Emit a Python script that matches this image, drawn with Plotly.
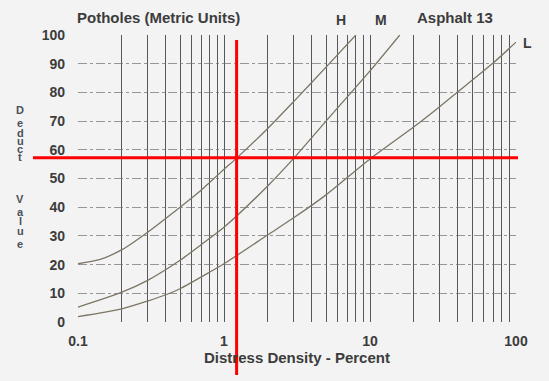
import plotly.graph_objects as go

# ---- data ----
h_x = [0.1, 0.14, 0.2, 0.3, 0.5, 0.7, 0.8, 1, 1.22, 2, 3, 5, 8]
h_y = [20.3, 21.7, 25.2, 31.3, 40, 46, 48.7, 53.2, 57.1, 67.5, 76.8, 88.8, 100]

m_x = [0.1, 0.2, 0.3, 0.5, 0.7, 1, 2, 3, 5, 10, 16]
m_y = [5.2, 10.4, 14.5, 21.5, 27, 33, 47.5, 57, 70, 87.5, 100]

l_x = [0.1, 0.2, 0.3, 0.4, 0.5, 0.8, 1, 2, 3, 5, 10, 20, 30, 40, 70, 100]
l_y = [1.9, 4.6, 7.3, 9.5, 11.6, 17.4, 20.3, 30.4, 36.3, 44.3, 56.8, 68, 75, 80.2, 90.3, 97.5]

x_grid = [0.1, 0.2, 0.3, 0.4, 0.5, 0.6, 0.7, 0.8, 0.9,
          1, 2, 3, 4, 5, 6, 7, 8, 9,
          10, 20, 30, 40, 50, 60, 70, 80, 90, 100]
x_labels = {0.1: "0.1", 1: "1", 10: "10", 100: "100"}
y_ticks = [0, 10, 20, 30, 40, 50, 60, 70, 80, 90, 100]

red_x = 1.22    # vertical red marker (density)
red_y = 57.2    # horizontal red marker (deduct value)

y_title_letters = ["D", "e", "d", "u", "c", "t", "V", "a", "l", "u", "e"]
y_title_pos = [109.7, 123.2, 132.8, 140.6, 149.0, 157.4, 199.4, 211.8, 221.4, 231.4, 244.4]
curve_labels = ["H", "M", "L"]

curve_color = "#7d7565"
text_color = "#3c3c3c"
font_family = "Liberation Sans, Arial, sans-serif"

L_M, R_M, T_M, B_M = 78, 33, 35, 59
PW = 549 - L_M - R_M
PH = 381 - T_M - B_M


def px_x(p):
    return (p - L_M) / PW


def px_y(p):
    return (381 - B_M - p) / PH


fig = go.Figure()
for xs, ys in [(h_x, h_y), (m_x, m_y), (l_x, l_y)]:
    fig.add_trace(go.Scatter(x=xs, y=ys, mode="lines",
                             line=dict(color=curve_color, width=1.3, shape="spline", smoothing=0.7),
                             hoverinfo="skip", showlegend=False))

fig.update_layout(
    width=549, height=381,
    margin=dict(l=L_M, r=R_M, t=T_M, b=B_M, autoexpand=False),
    paper_bgcolor="#f3f3f3", plot_bgcolor="#f3f3f3",
    font=dict(family=font_family, color=text_color, size=15),
    showlegend=False,
)
fig.update_xaxes(
    type="log", range=[-1, 2],
    tickvals=x_grid, ticktext=[x_labels.get(v, "") for v in x_grid],
    showgrid=True, gridcolor="rgba(60,60,60,0.85)", gridwidth=1.2,
    showline=False, zeroline=False, ticks="",
    ticklabelstandoff=9,
    tickfont=dict(size=14, family=font_family, weight="bold", color=text_color),
    title=dict(text="<b>Distress Density - Percent</b>", font=dict(size=15), standoff=3),
)
fig.update_yaxes(
    range=[0, 100], tickvals=y_ticks,
    showgrid=True, gridcolor="rgba(110,110,110,0.7)", gridwidth=1, griddash="dashdot",
    showline=False, zeroline=False, ticks="",
    ticklabelstandoff=12,
    tickfont=dict(size=14, family=font_family, weight="bold", color=text_color),
)

# stacked y-axis title, one letter per line
for ch, py in zip(y_title_letters, y_title_pos):
    fig.add_annotation(text="<b>" + ch + "</b>", xref="paper", yref="paper",
                       x=px_x(20), y=px_y(py),
                       showarrow=False, font=dict(size=11, color="#4a4f58"),
                       xanchor="center", yanchor="middle", borderpad=0)

# header texts
fig.add_annotation(text="<b>Potholes (Metric Units)</b>", xref="paper", yref="paper",
                   x=px_x(75), y=px_y(17), xanchor="left", yanchor="middle",
                   showarrow=False, font=dict(size=15))
fig.add_annotation(text="<b>Asphalt 13</b>", xref="paper", yref="paper",
                   x=px_x(415), y=px_y(17), xanchor="left", yanchor="middle",
                   showarrow=False, font=dict(size=15))
for lab, px, py in zip(curve_labels, [341, 381, 527], [20, 20, 43]):
    fig.add_annotation(text="<b>" + lab + "</b>", xref="paper", yref="paper",
                       x=px_x(px), y=px_y(py), xanchor="center", yanchor="middle",
                       showarrow=False, font=dict(size=14))

# red marker lines
fig.add_shape(type="line", xref="paper", yref="y", x0=px_x(33), x1=px_x(518),
              y0=red_y, y1=red_y, line=dict(color="#ff0000", width=3))
fig.add_shape(type="line", xref="x", yref="paper", x0=red_x, x1=red_x,
              y0=px_y(375), y1=px_y(40), line=dict(color="#ff0000", width=3))

fig.write_html("out.html", config={"displayModeBar": False},
               post_script="document.body.style.margin='0';document.body.style.overflow='hidden';")
